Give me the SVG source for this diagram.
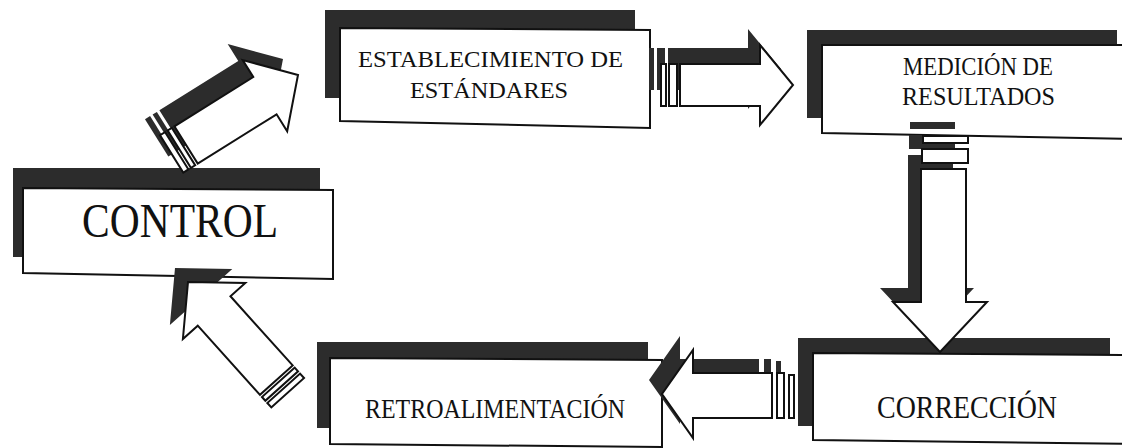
<svg xmlns="http://www.w3.org/2000/svg" xmlns:xlink="http://www.w3.org/1999/xlink" width="1122" height="448" viewBox="0 0 1122 448">
  <style>
    .sh { fill: #2c2c2c; }
    .bx { fill: #ffffff; stroke: #111111; stroke-width: 2; }
    .ar { fill: #ffffff; stroke: #111111; stroke-width: 2; stroke-linejoin: miter; }
    .t { font-family: "Liberation Serif", "Times New Roman", serif; fill: #111111; }
  </style>
  <defs>
    <g id="diag">
      <polygon points="0,0 -39,-42 -39,-22 -132,-22 -132,22 -39,22 -39,42"/>
      <rect x="-140" y="-22" width="5" height="44"/>
      <rect x="-149" y="-22" width="6" height="44"/>
    </g>
    <g id="arRight">
      <polygon points="680,64 760,64 760,45 793,85 760,125 760,106 680,106"/>
      <rect x="661" y="64" width="5" height="42"/>
      <rect x="669" y="64" width="8" height="42"/>
    </g>
    <g id="arDown">
      <polygon points="921,169 966,169 966,302 987,302 940,352 893,302 921,302"/>
      <rect x="923" y="136" width="45" height="7"/>
      <rect x="922" y="149" width="46" height="14"/>
    </g>
    <g id="arLeft">
      <polygon points="772,373 772,418 693,418 693,438 662,394 693,350 693,373"/>
      <rect x="777" y="373" width="7" height="45"/>
      <rect x="789" y="375" width="5" height="43"/>
    </g>
    <clipPath id="clipShadowLL" clipPathUnits="userSpaceOnUse">
      <rect x="0" y="267" width="1122" height="181"/>
    </clipPath>
    <clipPath id="clipBodyLL" clipPathUnits="userSpaceOnUse">
      <rect x="0" y="281" width="1122" height="167"/>
    </clipPath>
  </defs>

  <g id="node-control">
    <rect class="sh" x="13" y="168" width="307" height="89"/>
    <polygon class="bx" points="23,188 333,190 333,279 23,273"/>
    <text class="t" font-size="48" x="82" y="237" textLength="196" lengthAdjust="spacingAndGlyphs">CONTROL</text>
  </g>

  <g id="node-establecimiento">
    <rect class="sh" x="325" y="10" width="310" height="88"/>
    <polygon class="bx" points="340,28 650,30 650,128 340,121"/>
    <text class="t" font-size="24" x="358" y="67" textLength="265" lengthAdjust="spacingAndGlyphs">ESTABLECIMIENTO DE</text>
    <text class="t" font-size="24" x="410" y="98" textLength="158" lengthAdjust="spacingAndGlyphs">ESTÁNDARES</text>
  </g>

  <g id="node-medicion">
    <rect class="sh" x="807" y="30" width="310" height="88"/>
    <polygon class="bx" points="822,45 1135,45 1135,139 822,133"/>
    <text class="t" font-size="25" x="903" y="75" textLength="150" lengthAdjust="spacingAndGlyphs">MEDICIÓN DE</text>
    <text class="t" font-size="25" x="902" y="105" textLength="153" lengthAdjust="spacingAndGlyphs">RESULTADOS</text>
  </g>

  <g id="node-correccion">
    <rect class="sh" x="798" y="338" width="312" height="88"/>
    <polygon class="bx" points="813,353 1135,355 1135,444 813,440"/>
    <text class="t" font-size="32" x="877" y="418" textLength="180" lengthAdjust="spacingAndGlyphs">CORRECCIÓN</text>
  </g>

  <g id="node-retroalimentacion">
    <rect class="sh" x="317" y="342" width="331" height="86"/>
    <polygon class="bx" points="330,358 662,360 662,447 330,444"/>
    <text class="t" font-size="28" x="365" y="418" textLength="260" lengthAdjust="spacingAndGlyphs">RETROALIMENTACIÓN</text>
  </g>

  <g id="connectors">
    <g id="arrow-control-establecimiento">
      <use xlink:href="#diag" class="sh" transform="translate(-15,-16) translate(298,75) rotate(-32)"/>
      <use xlink:href="#diag" class="ar" transform="translate(298,75) rotate(-32)"/>
    </g>
    <g id="arrow-establecimiento-medicion">
      <use xlink:href="#arRight" class="sh" transform="translate(-12,-16)"/>
      <use xlink:href="#arRight" class="ar"/>
    </g>
    <g id="arrow-medicion-correccion">
      <use xlink:href="#arDown" class="sh" transform="translate(-13,-14)"/>
      <use xlink:href="#arDown" class="ar"/>
    </g>
    <g id="arrow-correccion-retroalimentacion">
      <use xlink:href="#arLeft" class="sh" transform="translate(-13,-14)"/>
      <use xlink:href="#arLeft" class="ar"/>
    </g>
    <g id="arrow-retroalimentacion-control">
      <g clip-path="url(#clipShadowLL)">
        <use xlink:href="#diag" class="sh" transform="translate(-13,-14) translate(188,282) rotate(228)"/>
      </g>
      <g clip-path="url(#clipBodyLL)">
        <use xlink:href="#diag" class="ar" transform="translate(188,282) rotate(228)"/>
      </g>
    </g>
  </g>
</svg>
